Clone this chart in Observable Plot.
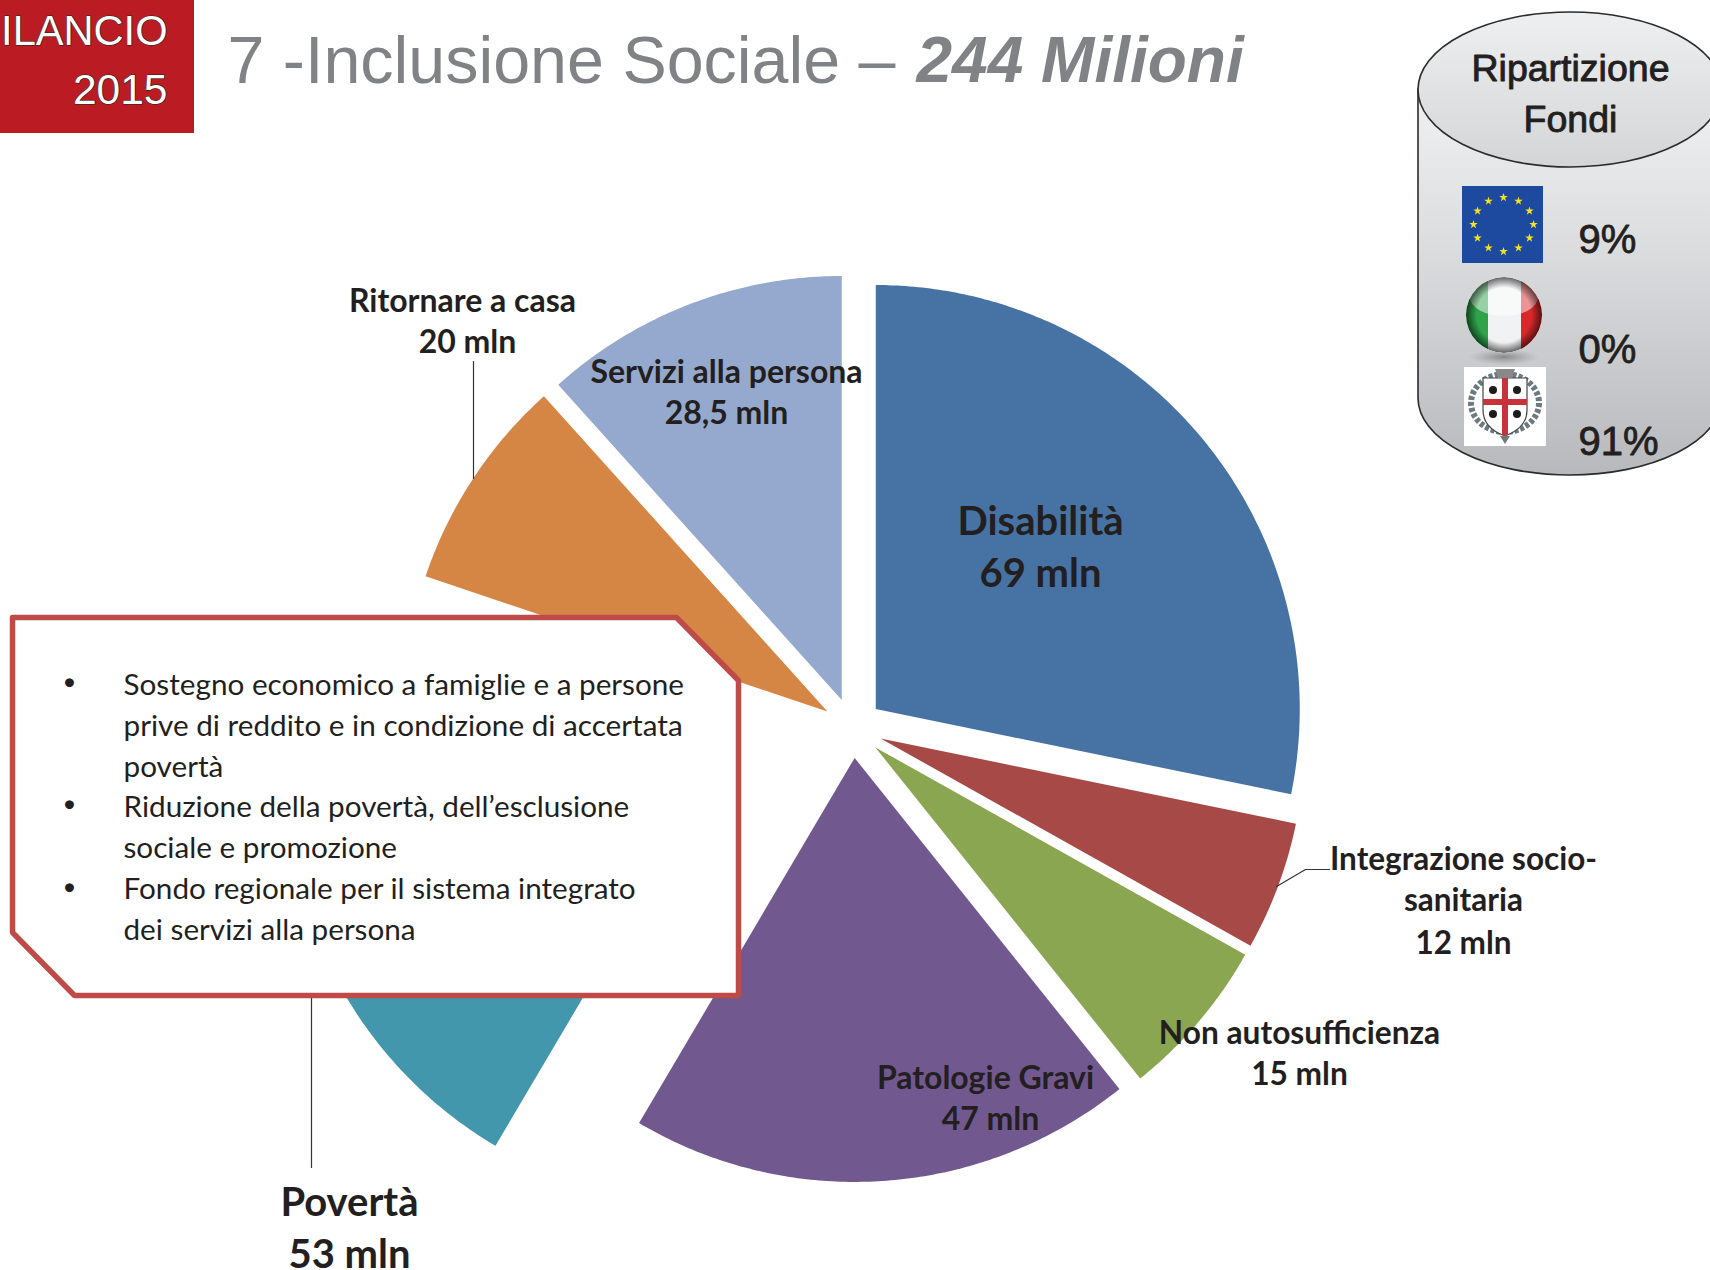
<!DOCTYPE html>
<html>
<head>
<meta charset="utf-8">
<script src="https://cdn.jsdelivr.net/npm/d3@7"></script>
<script src="https://cdn.jsdelivr.net/npm/@observablehq/plot@0.6"></script>
<style>html,body{margin:0;padding:0;background:#fff;overflow:hidden}svg{display:block}</style>
</head>
<body>
<div id="chart"></div>
<script>
// Data
const sliceNames   = ["Disabilità","Integrazione socio-sanitaria","Non autosufficienza","Patologie Gravi","Povertà","Ritornare a casa","Servizi alla persona"];
const sliceValues  = [69,12,15,47,53,20,28.5];
const sliceColors  = ["#4672a4","#a74a47","#8ba650","#71588f","#4297ad","#d58544","#94a9cd"];
const sliceExplode = [30,30,30,30,151,30,30];
const fundLabels   = ["9%","0%","91%"];
const bulletLines  = [
  ["Sostegno economico a famiglie e a persone",true],
  ["prive di reddito e in condizione di accertata",false],
  ["povertà",false],
  ["Riduzione della povertà, dell’esclusione",true],
  ["sociale e promozione",false],
  ["Fondo regionale per il sistema integrato",true],
  ["dei servizi alla persona",false]
];
const bulletY = [685,726,767,807,848,889,930];
const labelRows = [
  ["Ritornare a casa",462,301,32],["20 mln",467,342,32],
  ["Servizi alla persona",726,372,32],["28,5 mln",726,413,32],
  ["Disabilità",1040,522,40],["69 mln",1040,574,40],
  ["Integrazione socio-",1463,859,31.5],["sanitaria",1463,900,31.5],["12 mln",1463,943,31.5],
  ["Non autosufficienza",1299,1033,31.7],["15 mln",1299,1074,31.7],
  ["Patologie Gravi",985,1078,32],["47 mln",990,1119,32],
  ["Povertà",349,1203,40],["53 mln",349,1255,40]
];
const leaders = [
  [[473,361],[473,478]],
  [[1276,886],[1305,869],[1329,869]],
  [[311,995],[311,1167]]
];

// Pie geometry, derived from the values
const center = [852,727.5], R = 424;
const pie = d3.pie().sort(null).value(d=>d.v)(sliceNames.map((n,i)=>({n,v:sliceValues[i],e:sliceExplode[i]})));
const slicePts = pie.flatMap(a=>{
  const mid=(a.startAngle+a.endAngle)/2;
  const ax=center[0]+a.data.e*Math.sin(mid), ay=center[1]-a.data.e*Math.cos(mid);
  const n=Math.ceil((a.endAngle-a.startAngle)/0.01);
  const pts=[{name:a.data.n,x:ax,y:ay}];
  for(let i=0;i<=n;i++){const t=a.startAngle+(a.endAngle-a.startAngle)*i/n;
    pts.push({name:a.data.n,x:ax+R*Math.sin(t),y:ay-R*Math.cos(t)});}
  pts.push({name:a.data.n,x:ax,y:ay});
  return pts;
});

const box = [[12,617],[676,617],[738,680],[738,995],[74,995],[12,932],[12,617]].map(([x,y])=>({x,y}));

const decoration = () => {
  const g=d3.create("svg:g");
  const defs=g.append("defs");
  const lg=(id,stops)=>{const l=defs.append("linearGradient").attr("id",id).attr("x1",0).attr("y1",0).attr("x2",0).attr("y2",1);
    stops.forEach(([o,c])=>l.append("stop").attr("offset",o).attr("stop-color",c));};
  lg("cylBody",[[0,"#f0f1f2"],[0.4,"#dcdddf"],[1,"#b8b9bc"]]);
  lg("cylTop",[[0,"#eeeff0"],[1,"#d4d5d7"]]);
  const sdw=defs.append("radialGradient").attr("id","itaShadow");
  sdw.append("stop").attr("offset",0).attr("stop-color","#777").attr("stop-opacity",.8);
  sdw.append("stop").attr("offset",1).attr("stop-color","#999").attr("stop-opacity",0);
  const rim=defs.append("radialGradient").attr("id","itaRim");
  rim.append("stop").attr("offset",.72).attr("stop-color","#000").attr("stop-opacity",0);
  rim.append("stop").attr("offset",1).attr("stop-color","#000").attr("stop-opacity",.6);
  defs.append("clipPath").attr("id","itaClip").append("circle").attr("cx",1504).attr("cy",315).attr("r",38);
  // cylinder
  g.append("path").attr("d","M1418,89 L1418,398 A152,77 0 0 0 1722,398 L1722,89 Z")
    .attr("fill","url(#cylBody)").attr("stroke","#2b2b2b").attr("stroke-width",1.6);
  g.append("ellipse").attr("cx",1570).attr("cy",89.5).attr("rx",152).attr("ry",77.5)
    .attr("fill","url(#cylTop)").attr("stroke","#2b2b2b").attr("stroke-width",1.6);
  // EU flag
  g.append("rect").attr("x",1462).attr("y",186).attr("width",81).attr("height",77).attr("fill","#1d4a9e");
  // Italian ball
  g.append("ellipse").attr("cx",1504).attr("cy",357).attr("rx",36).attr("ry",8).attr("fill","url(#itaShadow)");
  const ita=g.append("g").attr("clip-path","url(#itaClip)");
  ita.append("rect").attr("x",1466).attr("y",277).attr("width",76).attr("height",76).attr("fill","#f1f2f3");
  ita.append("rect").attr("x",1466).attr("y",277).attr("width",22).attr("height",76).attr("fill","#2fa24a");
  ita.append("rect").attr("x",1521).attr("y",277).attr("width",21).attr("height",76).attr("fill","#d8282a");
  ita.append("ellipse").attr("cx",1504).attr("cy",297).attr("rx",34).attr("ry",19).attr("fill","#fff").attr("opacity",.5);
  ita.append("circle").attr("cx",1504).attr("cy",315).attr("r",38).attr("fill","url(#itaRim)");
  // Sardinian arms
  g.append("rect").attr("x",1464).attr("y",367).attr("width",82).attr("height",79).attr("fill","#fff");
  g.append("ellipse").attr("cx",1505).attr("cy",403).attr("rx",34).attr("ry",29).attr("fill","none").attr("stroke","#6c7a80").attr("stroke-width",6).attr("stroke-dasharray","4 2");
  g.append("path").attr("d","M1483,378 H1527 V410 Q1527,428 1505,436 Q1483,428 1483,410 Z").attr("fill","#fff").attr("stroke","#444").attr("stroke-width",1.2);
  g.append("rect").attr("x",1502).attr("y",378).attr("width",6).attr("height",57).attr("fill","#c8323a");
  g.append("rect").attr("x",1483).attr("y",399).attr("width",44).attr("height",6).attr("fill","#c8323a");
  [[1493,390],[1517,390],[1493,414],[1517,414]].forEach(([x,y])=>g.append("circle").attr("cx",x).attr("cy",y).attr("r",4).attr("fill","#1c1c1c"));
  g.append("path").attr("d","M1495,369 h20 l-3,9 h-14 Z").attr("fill","#888");
  g.append("path").attr("d","M1500,436 h10 l-5,8 Z").attr("fill","#777");
  return g.node();
};
const starAngles = d3.range(12).map(i=>i*Math.PI/6);
const stars = starAngles.map(a=>({x:1503+30*Math.sin(a),y:224-27*Math.cos(a)}));

const labelFont="Lato", dark="#231f20";
const chart = Plot.plot({
  width:1710,height:1270,margin:0,
  x:{domain:[0,1710],range:[0,1710],axis:null},
  y:{domain:[0,1270],range:[0,1270],axis:null},
  color:{domain:sliceNames,range:sliceColors},
  style:{background:"#fff"},
  marks:[
    Plot.line(slicePts,{x:"x",y:"y",z:"name",fill:"name",stroke:"none"}),
    ...leaders.map(l=>Plot.line(l,{x:d=>d[0],y:d=>d[1],stroke:"#333",strokeWidth:1.2})),
    Plot.rect([0],{x1:0,x2:194,y1:0,y2:133,fill:"#bb1c24"}),
    Plot.text(["ILANCIO","2015"],{x:167,y:(d,i)=>[31,90][i],text:d=>d,fontSize:(d,i)=>[41.6,42.5][i],textAnchor:"end",lineAnchor:"middle",fontFamily:"Liberation Sans",fill:"#fff",stroke:"#222",strokeWidth:1.2}),
    Plot.text(["7 -Inclusione Sociale – "],{x:227,y:61,text:d=>d,textAnchor:"start",lineAnchor:"middle",fontSize:66.4,fontFamily:"Liberation Sans",fill:"#808285"}),
    Plot.text(["244 Milioni"],{x:916,y:61,text:d=>d,textAnchor:"start",lineAnchor:"middle",fontSize:64,fontWeight:"bold",fontStyle:"italic",fontFamily:"Liberation Sans",fill:"#808285"}),
    decoration,
    Plot.dot(stars,{x:"x",y:"y",symbol:"star",r:2.7,fill:"#f5e31b",stroke:"none"}),
    Plot.text(["Ripartizione","Fondi"],{x:1570,y:(d,i)=>[68,119][i],text:d=>d,textAnchor:"middle",lineAnchor:"middle",fontSize:37.5,fontFamily:"Liberation Sans",fill:dark,stroke:dark,strokeWidth:.9}),
    Plot.text(fundLabels,{x:1578,y:(d,i)=>[240,350,442][i],text:d=>d,textAnchor:"start",lineAnchor:"middle",fontSize:40,fontFamily:"Liberation Sans",fill:dark,stroke:dark,strokeWidth:.8}),
    Plot.line(box,{x:"x",y:"y",fill:"#fff",stroke:"#be4b48",strokeWidth:5.5,strokeLinejoin:"miter"}),
    Plot.text(bulletLines,{x:123,y:(d,i)=>bulletY[i],text:d=>d[0],textAnchor:"start",lineAnchor:"middle",fontSize:29.7,fontFamily:labelFont,fill:dark}),
    Plot.text(bulletLines.filter(d=>d[1]),{x:69,y:(d,i)=>[682,804,887][i],text:()=>"•",textAnchor:"middle",lineAnchor:"middle",fontSize:24,fontFamily:labelFont,fill:dark}),
    Plot.text(labelRows,{x:d=>d[1],y:d=>d[2],text:d=>d[0],fontSize:d=>d[3],textAnchor:"middle",lineAnchor:"middle",fontWeight:"bold",fontFamily:labelFont,fill:dark})
  ]
});
document.getElementById("chart").appendChild(chart);
</script>
</body>
</html>
